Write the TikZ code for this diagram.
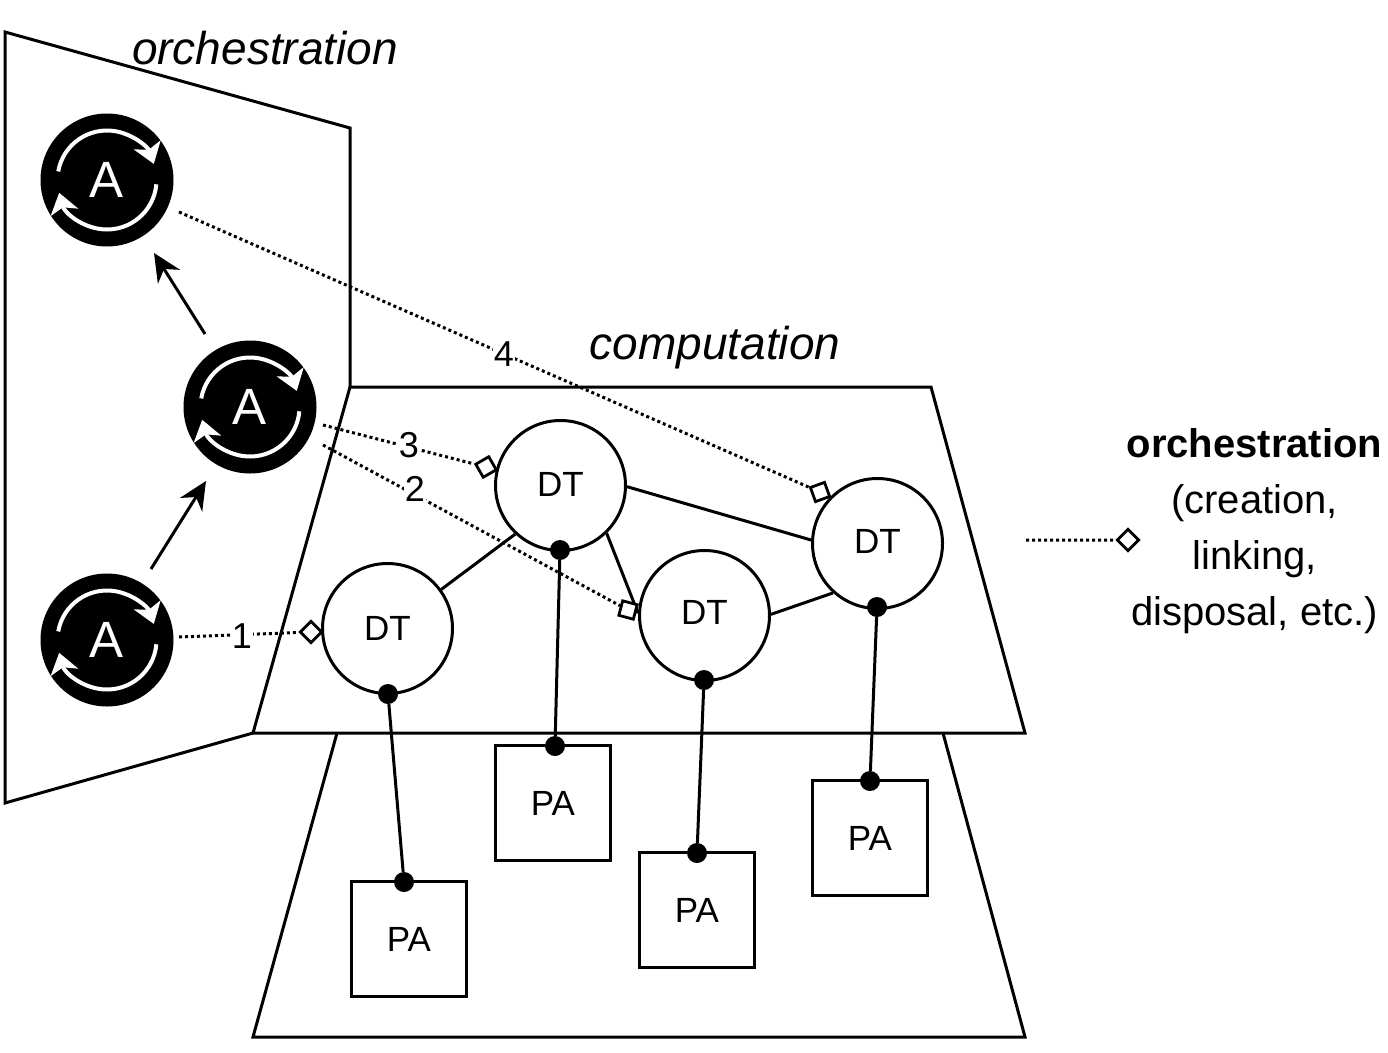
\documentclass[tikz,border=0pt]{standalone}
\usepackage{fontspec}
\setmainfont{Liberation Sans}
\usetikzlibrary{arrows.meta,shapes.geometric}
\newcommand{\fsz}[1]{\fontsize{#1}{#1}\selectfont}
\tikzset{
  plane/.style={draw=black,line width=3pt,line join=miter},
  dtnode/.style={circle,draw=black,line width=3pt,fill=white,minimum size=130pt,inner sep=0pt,font=\fsz{35}},
  panode/.style={rectangle,draw=black,line width=3pt,fill=white,minimum size=115pt,inner sep=0pt,font=\fsz{35}},
  anode/.style={circle,fill=black,minimum size=133pt,inner sep=0pt,text=white,font=\fsz{51}},
  blob/.style={circle,fill=black,minimum size=20pt,inner sep=0pt},
  link/.style={draw=black,line width=3pt},
  orch/.style={draw=black,line width=3pt,dash pattern=on 3pt off 3pt},
  diam/.style={rectangle,draw=black,line width=2.8pt,fill=white,minimum size=15pt,inner sep=0pt},
  numlab/.style={fill=white,inner sep=1pt,font=\fsz{36}},
  seq/.style={draw=black,line width=3pt,-{Stealth[length=28pt,width=26pt]}},
  cyc/.style={draw=white,line width=4pt,-{Stealth[length=20pt,width=28pt,inset=5pt]}},
  title/.style={font=\fsz{46}\itshape,inner sep=0pt},
}
\begin{document}
\begin{tikzpicture}[x=1pt,y=-1pt]
\useasboundingbox (0,0) rectangle (1388,1052);
% planes
\draw[plane] (253,733) -- (5,803) -- (5,32) -- (350,128) -- (350,387);
\draw[plane] (337,733) -- (253,1037) -- (1025,1037) -- (943,733);
\draw[plane] (350,387) -- (931,387) -- (1025,733) -- (253,733) -- cycle;
\node[title] (t1) at (265,48) {orchestration};
\node[title] (t2) at (715,348) {computation};
% actors
\foreach \n/\x/\y in {a1/107/640,a2/250/407,a3/107/180}{
  \node[anode] (\n) at (\x,\y) {};
  \node[text=white,font=\fsz{51},inner sep=0pt] at (\x,\y) {A};
  \draw[cyc] (\x,\y) ++(-170:49.5) arc[start angle=-170,end angle=-19,radius=49.5];
  \draw[cyc] (\x,\y) ++(5:49.5) arc[start angle=5,end angle=165,radius=49.5];
}
\coordinate (s1) at (151,569); \coordinate (e1) at (206,481);
\coordinate (s2) at (205,334); \coordinate (e2) at (154,253);
\draw[seq] (s1) -- (e1);
\draw[seq] (s2) -- (e2);
% DT and PA
\node[dtnode] (dt1) at (387.5,628.5) {DT};
\node[dtnode] (dt2) at (560.5,485.5) {\raisebox{2pt}{DT}};
\node[dtnode] (dt3) at (704.5,615.5) {\raisebox{6pt}{DT}};
\node[dtnode] (dt4) at (877.5,543.5) {\raisebox{5pt}{DT}};
\node[panode] (pa1) at (409,939) {PA};
\node[panode] (pa2) at (553,803) {PA};
\node[panode] (pa3) at (697,910) {PA};
\node[panode] (pa4) at (870,838) {PA};
% DT links
\draw[link] (dt1.36) -- (dt2.227);
\draw[link] (dt2.-46) -- (dt3.178);
\draw[link] (dt2.-1) -- (dt4.177);
\draw[link] (dt3.1) -- (dt4.228);
% blobs
\node[blob] (b1) at (388,694) {};
\node[blob] (b2) at (560,550) {};
\node[blob] (b3) at (704,680) {};
\node[blob] (b4) at (877,607) {};
\node[blob] (c1) at (404,882) {};
\node[blob] (c2) at (555,746) {};
\node[blob] (c3) at (697,853) {};
\node[blob] (c4) at (870,781) {};
\draw[link] (b1) -- (c1);
\draw[link] (b2) -- (c2);
\draw[link] (b3) -- (c3);
\draw[link] (b4) -- (c4);
% orchestration links
\node[diam,rotate=45] (d1) at (311,632) {};
\node[diam,rotate=30] (d2) at (486,467) {};
\node[diam,rotate=-15] (d3) at (628,610) {};
\node[diam,rotate=20] (d4) at (820,492) {};
\node[diam,rotate=45] (d5) at (1128,540) {};
\coordinate (o1) at (179,637);
\coordinate (o2) at (323,425);
\coordinate (o3) at (323,445);
\coordinate (o4) at (179,212);
\coordinate (o5) at (1026,540);
\draw[orch] (o1) -- (d1);
\draw[orch] (o2) -- (d2);
\draw[orch] (o3) -- (d3);
\draw[orch] (o4) -- (d4);
\draw[orch] (o5) -- (d5);
\node[numlab] (n1) at (242,636) {1};
\node[numlab] (n3) at (409,445) {3};
\node[numlab] (n2) at (415,489) {2};
\node[numlab] (n4) at (504,354) {4};
% legend
\node[align=center,inner sep=0pt,font=\fsz{40}] (leg) at (1254.5,531) {\textbf{orchestration}\\[16pt](creation,\\[16pt]linking,\\[16pt]disposal, etc.)};
\end{tikzpicture}
\end{document}
